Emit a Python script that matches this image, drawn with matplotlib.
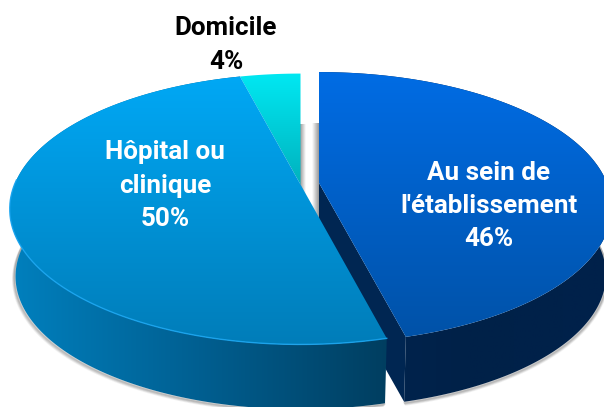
import numpy as np
import matplotlib
matplotlib.use("Agg")
import matplotlib.pyplot as plt
from matplotlib.patches import Polygon
from matplotlib.colors import LinearSegmentedColormap as LSC

labels = ["Au sein de\nl'établissement", "Hôpital ou\nclinique", "Domicile"]
shares = [46, 50, 4]
label_colors = ["white", "white", "black"]
label_xy = [(489, 206), (165, 186), (226, 45)]

# 3D projection parameters (pixel space)
WIDTHS = [288.0, 286.0, 286.0]
B, K = 131.0, 0.181
DEPTH, BOT = 68.0, 0.98
apex = [(319.0, 183.0), (300.5, 184.5), (300.5, 184.5)]

fig = plt.figure(figsize=(6.04, 4.07), dpi=100)
ax = fig.add_axes([0, 0, 1, 1])
ax.axis("off")

def proj(t, c, A, bottom=False):
    t = np.radians(t)
    w = 1 + K * np.cos(t)
    s = BOT if bottom else 1.0
    return np.column_stack([c[0] + s * A * np.sin(t) / w,
                            c[1] + (DEPTH if bottom else 0) - s * B * np.cos(t) / w])

def fill(poly, colors, horizontal=False, zorder=1):
    cm = LSC.from_list("g", colors)
    grad = np.linspace(0, 1, 256)
    grad = grad[None, :] if horizontal else grad[:, None]
    x0, y0 = poly.min(axis=0); x1, y1 = poly.max(axis=0)
    im = ax.imshow(grad, cmap=cm, extent=(x0, x1, y1, y0), aspect="auto", zorder=zorder,
                   interpolation="bilinear")
    pg = Polygon(poly, closed=True, transform=ax.transData, fc="none", ec="none")
    ax.add_patch(pg)
    im.set_clip_path(pg)

edges = np.cumsum([0] + shares) * 3.6
arcs = [np.linspace(edges[i], edges[i + 1], 200) for i in range(3)]

def rgb(*c):
    return tuple(v / 255 for v in c)

# gap shadows
def gapshadow(x0, x1, y0, y1, left_dark):
    g = np.linspace(0, 1, 32)[None, :]
    if not left_dark:
        g = g[:, ::-1]
    cm = LSC.from_list("s", [(0.5, 0.5, 0.5, 0.8), (0.5, 0.5, 0.5, 0.0)])
    ax.imshow(g, cmap=cm, extent=(x0, x1, y1, y0), aspect="auto", zorder=0.5)

gapshadow(300, 306, 124, 200, True)
gapshadow(312, 319, 123, 222, False)

# soft shadow under the pie
for i, off in enumerate([4, 3, 2, 1]):
    for idx, rng in [(0, (60, 165.6)), (1, (165.6, 278))]:
        t = np.linspace(*rng, 200)
        p = proj(t, apex[idx], WIDTHS[idx], True)
        ax.plot(p[:, 0] - (off * 0.6 if idx == 1 else -off * 0.4), p[:, 1] + off * 0.7,
                color="#707070", alpha=0.10 + 0.06 * i, lw=1.6, zorder=0.6, solid_capstyle="round")

# Au sein: inner wall, outer side, top
c, A = apex[0], WIDTHS[0]
corner_t = proj(np.array([edges[1]]), c, A)[0]
corner_b = proj(np.array([edges[1]]), c, A, True)[0]
wall = np.array([c, corner_t, corner_b, (c[0], c[1] + DEPTH)])
ax.add_patch(Polygon(wall, closed=True, fc=rgb(0, 38, 82), ec="none", zorder=1))
side = np.vstack([proj(arcs[0], c, A), proj(arcs[0][::-1], c, A, True)])
fill(side, [rgb(0, 38, 82), rgb(0, 33, 72), rgb(0, 33, 75)], horizontal=True, zorder=1.1)
top = np.vstack([[c], proj(arcs[0], c, A)])
fill(top, [rgb(0, 108, 228), rgb(0, 82, 168)], zorder=1.2)

# Domicile
c, A = apex[2], WIDTHS[2]
top = np.vstack([[c], proj(arcs[2], c, A)])
fill(top, [rgb(0, 232, 242), rgb(0, 178, 190)], zorder=1.3)

# Hôpital: side and top
c, A = apex[1], WIDTHS[1]
side = np.vstack([proj(arcs[1], c, A), proj(arcs[1][::-1], c, A, True)])
fill(side, [rgb(0, 128, 190), rgb(0, 95, 145), rgb(0, 62, 96)], horizontal=True, zorder=1.4)
top = np.vstack([[c], proj(arcs[1], c, A)])
fill(top, [rgb(0, 168, 245), rgb(0, 125, 185)], zorder=1.5)
rim = proj(np.linspace(edges[1], 272, 200), c, A)
ax.plot(rim[:, 0], rim[:, 1], color=rgb(25, 165, 240), lw=1.0, alpha=0.9, zorder=1.6)

# Labels
for name, val, col, (x, y) in zip(labels, shares, label_colors, label_xy):
    ax.text(x, y, f"{name}\n{val}%", color=col, ha="center", va="center", fontsize=18.7,
            fontweight="bold", family="Roboto", linespacing=1.5, zorder=3)

ax.set_xlim(0, 604)
ax.set_ylim(407, 0)
fig.savefig("out.png", dpi=100, facecolor="white")
